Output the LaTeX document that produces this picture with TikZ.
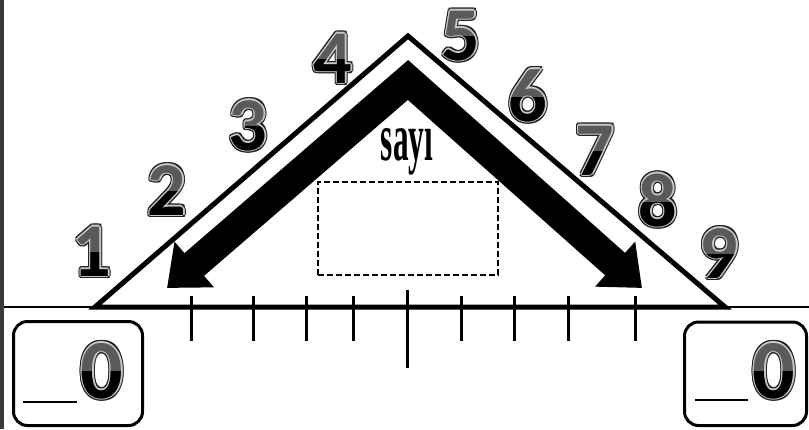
\documentclass[tikz,border=0pt]{standalone}
\usepackage{fontspec}
\usepackage{graphicx}
\usetikzlibrary{arrows.meta}
\newfontfamily\numfont{Carlito}
\newfontfamily\wordfont{Liberation Serif}
\definecolor{stripgray}{HTML}{3A3A3A}
\definecolor{numtop}{HTML}{5A5A5A}
\definecolor{numrim}{HTML}{C8C8C8}
\definecolor{numedge}{HTML}{1E1E1E}

\tikzset{
  num/.style={font=\numfont\bfseries\fontsize{#1}{#1}\selectfont, inner sep=0pt, anchor=base},
  num/.default=76,
  tick/.style={line width=3pt},
  slot/.style={draw, dash pattern=on 6pt off 3pt, line width=1.6pt, minimum width=180pt, minimum height=93pt, inner sep=0pt},
  answer/.style={draw, line width=3pt, rounded corners=14pt}
}

% digit with dark edge, light rim, grey top half and black lower half
\newcommand{\bignum}[4][76]{%
  \foreach \k in {1,...,12}
    \node[num=#1, text=numedge, shift={(\k*30:2.6)}] (#2e\k) at (#3) {#4};
  \foreach \k in {1,...,8}
    \node[num=#1, text=numrim, shift={(\k*45:1.3)}] (#2r\k) at (#3) {#4};
  \node[num=#1, text=numtop] (#2) at (#3) {#4};
  \begin{scope}
    \clip ([shift={(-40pt,-5pt)}]#2.base) rectangle ([shift={(40pt,0.31*#1pt)}]#2.base);
    \node[num=#1, text=black] (#2b) at (#3) {#4};
  \end{scope}
}

\begin{document}
\begin{tikzpicture}[x=1pt, y=-1pt]
  \useasboundingbox (0,0) rectangle (809,429);
  \fill[stripgray] (0,0) rectangle (4,429);

  \coordinate (A) at (95,307);
  \coordinate (B) at (725,307);
  \coordinate (C) at (408,36);

  % number line
  \draw[line width=2pt] (4,307) -- (809,307);
  \draw[line width=5pt, line join=miter] (A) -- (C) -- (B) -- cycle;
  \foreach \x in {191,253,306,353,461,514,568,635}
    \draw[tick] (\x,296) -- (\x,341);
  \draw[tick] (407,290) -- (407,368);

  % chevron arrow
  \coordinate (tipL) at (167,288);
  \coordinate (peak) at (408,80);
  \coordinate (tipR) at (642,288);
  \draw[line width=30pt, line join=miter,
        {Triangle[length=36pt,width=58pt]}-{Triangle[length=36pt,width=58pt]}]
    (tipL) -- (peak) -- (tipR);

  \node[font=\wordfont\bfseries\fontsize{68}{68}\selectfont, inner sep=0pt, anchor=base]
    (word) at (407,160) {\scalebox{0.46}[1]{sayı}};
  \node[slot] (box) at (408,228.5) {};

  \bignum{n1}{92,276}{1}
  \bignum{n2}{167,215}{2}
  \bignum{n3}{248,150}{3}
  \bignum{n4}{333,83}{4}
  \bignum{n5}{461,60}{5}
  \bignum{n6}{528,121}{6}
  \bignum{n7}{595,175}{7}
  \bignum{n8}{658,226}{8}
  \bignum{n9}{719,278}{9}

  % answer boxes
  \draw[answer] (13.5,321.5) rectangle (142.5,425.5);
  \draw[line width=2.5pt] (23,402) -- (77,402);
  \bignum[84]{zl}{102,398}{0}
  \draw[answer] (684.5,322) rectangle (806.5,425.5);
  \draw[line width=2.5pt] (695,400) -- (748,400);
  \bignum[84]{zr}{774,398}{0}
\end{tikzpicture}
\end{document}
